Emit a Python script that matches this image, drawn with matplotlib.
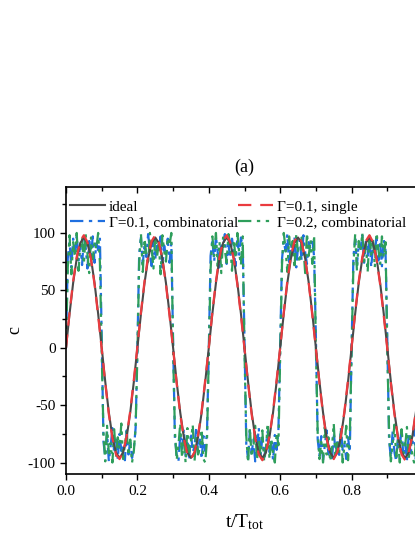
import numpy as np
import matplotlib
matplotlib.use("Agg")
import matplotlib.pyplot as plt

plt.rcParams['font.family'] = ['Liberation Serif', 'DejaVu Serif']
plt.rcParams['mathtext.fontset'] = 'custom'
plt.rcParams['mathtext.rm'] = 'Liberation Serif'
plt.rcParams['mathtext.it'] = 'Liberation Serif:italic'

# ---------------- data ----------------
t_ideal = np.linspace(0.0, 1.0, 101)
c_ideal = [
    0, 29.7, 56.4, 77.7, 91.3, 96, 91.3, 77.7, 56.4, 29.7,
    0, -29.7, -56.4, -77.7, -91.3, -96, -91.3, -77.7, -56.4, -29.7,
    0, 29.7, 56.4, 77.7, 91.3, 96, 91.3, 77.7, 56.4, 29.7,
    0, -29.7, -56.4, -77.7, -91.3, -96, -91.3, -77.7, -56.4, -29.7,
    0, 29.7, 56.4, 77.7, 91.3, 96, 91.3, 77.7, 56.4, 29.7,
    0, -29.7, -56.4, -77.7, -91.3, -96, -91.3, -77.7, -56.4, -29.7,
    0, 29.7, 56.4, 77.7, 91.3, 96, 91.3, 77.7, 56.4, 29.7,
    0, -29.7, -56.4, -77.7, -91.3, -96, -91.3, -77.7, -56.4, -29.7,
    0, 29.7, 56.4, 77.7, 91.3, 96, 91.3, 77.7, 56.4, 29.7,
    0, -29.7, -56.4, -77.7, -91.3, -96, -91.3, -77.7, -56.4, -29.7,
    0,
]
c_single = [
    0, 31, 58, 79, 93, 98, 92, 77, 55, 28,
    -1, -31, -58, -79, -93, -97, -91, -77, -55, -28,
    1, 31, 58, 80, 93, 98, 92, 77, 55, 28,
    -1, -31, -58, -79, -93, -97, -91, -76, -55, -28,
    0, 31, 58, 79, 93, 98, 92, 77, 55, 28,
    -1, -31, -58, -79, -93, -98, -91, -77, -55, -28,
    0, 31, 58, 80, 93, 98, 92, 77, 56, 28,
    -1, -31, -58, -79, -93, -97, -91, -77, -55, -28,
    1, 31, 58, 79, 93, 98, 92, 77, 55, 28,
    -1, -31, -58, -79, -93, -98, -91, -77, -55, -28,
    0,
]

t_comb = np.linspace(0.0, 1.0, 201)
c_comb_01 = [
    0, 78, 92, 70, 95, 84, 98, 76, 90, 72, 96, 88, 69, 93, 80, 97, 74, 91, 85, 95,
    10, -82, -95, -74, -99, -86, -70, -92, -80, -97, -75, -90, -84, -98, -72, -93, -81, -96, -88, -70,
    0, 82, 96, 73, 90, 79, 99, 85, 71, 94, 77, 92, 86, 97, 70, 89, 80, 95, 74, 91,
    8, -79, -93, -99, -76, -88, -71, -95, -83, -98, -74, -91, -86, -69, -94, -80, -97, -77, -90, -73,
    -2, 80, 94, 75, 97, 83, 70, 92, 87, 99, 73, 90, 78, 95, 84, 71, 93, 81, 96, 88,
    6, -84, -97, -72, -92, -80, -99, -87, -70, -94, -78, -96, -85, -73, -91, -82, -98, -76, -89, -72,
    1, 77, 93, 84, 99, 72, 90, 81, 96, 70, 88, 94, 76, 98, 83, 73, 92, 86, 95, 79,
    9, -80, -94, -77, -98, -85, -72, -93, -88, -99, -74, -90, -81, -96, -70, -89, -84, -97, -78, -91,
    0, 79, 95, 72, 91, 86, 98, 74, 93, 80, 97, 70, 89, 84, 96, 76, 92, 71, 94, 85,
    7, -81, -96, -73, -91, -99, -78, -87, -70, -95, -83, -98, -75, -92, -85, -71, -97, -80, -93, -76,
    -3,
]
c_comb_02 = [
    0, 70, 98, 64, 92, 79, 100, 67, 88, 95, 73, 99, 82, 65, 96, 77, 93, 86, 100, 74,
    -4, -75, -99, -68, -92, -83, -100, -71, -95, -78, -88, -66, -97, -84, -73, -94, -80, -100, -90, -69,
    -6, 74, 99, 66, 95, 81, 72, 100, 87, 69, 97, 79, 92, 64, 98, 84, 75, 96, 89, 100,
    -2, -72, -98, -85, -66, -96, -79, -100, -70, -91, -82, -67, -99, -76, -93, -87, -71, -97, -100, -80,
    -5, 68, 97, 80, 100, 71, 92, 65, 96, 85, 74, 99, 90, 67, 94, 78, 100, 83, 72, 97,
    -3, -77, -100, -70, -95, -86, -68, -98, -81, -93, -72, -99, -88, -66, -97, -79, -92, -100, -74, -85,
    -7, 72, 100, 86, 66, 97, 78, 93, 69, 99, 82, 74, 96, 88, 65, 100, 80, 94, 73, 98,
    -1, -74, -97, -82, -100, -69, -93, -78, -99, -87, -66, -96, -80, -91, -72, -100, -85, -68, -98, -77,
    -4, 71, 99, 67, 93, 84, 100, 75, 90, 66, 98, 81, 95, 70, 100, 86, 73, 97, 79, 92,
    -2, -73, -99, -84, -67, -95, -80, -100, -71, -92, -86, -69, -98, -77, -94, -100, -82, -70, -96, -75,
    -6,
]

labels = ['ideal', '\u0393=0.1, single', '\u0393=0.1, combinatorial', '\u0393=0.2, combinatorial']
colors = ['#4a4a4a', '#ea3b3f', '#1f6fe0', '#2e9e5b']
xticks = [0.0, 0.2, 0.4, 0.6, 0.8]
xtick_labels = ['0.0', '0.2', '0.4', '0.6', '0.8']
yticks = [-100, -50, 0, 50, 100]
ytick_labels = ['-100', '-50', '0', '50', '100']

# ---------------- figure ----------------
fig = plt.figure(figsize=(4.15, 5.37), dpi=100)
ax = fig.add_axes([66 / 415, 1 - 474 / 537, (423 - 66) / 415, (474 - 187) / 537])

l_c1, = ax.plot(t_comb, c_comb_01, color=colors[2], lw=1.6, dashes=(6, 2.5, 1.5, 2.5), label=labels[2])
l_c2, = ax.plot(t_comb, c_comb_02, color=colors[3], lw=1.6, dashes=(6, 2.5, 1.5, 2.5, 1.5, 2.5), label=labels[3])
l_id, = ax.plot(t_ideal, c_ideal, color=colors[0], lw=1.5, label=labels[0])
l_si, = ax.plot(t_ideal, c_single, color=colors[1], lw=1.6, dashes=(6, 4), label=labels[1])

ax.set_xlim(0, 1.0)
ax.set_ylim(-110, 140)
ax.set_xticks(xticks)
ax.set_xticks([0.1, 0.3, 0.5, 0.7, 0.9], minor=True)
ax.set_yticks(yticks)
ax.set_yticks([-75, -25, 25, 75, 125], minor=True)
ax.set_xticklabels(xtick_labels)
ax.set_yticklabels(ytick_labels)

ax.tick_params(axis='both', which='both', direction='out', labelsize=11, width=1, colors='black')
ax.tick_params(axis='both', which='major', length=4)
ax.tick_params(axis='both', which='minor', length=3)
ax.tick_params(axis='x', which='both', top=True, labeltop=False, pad=4)
for sp in ax.spines.values():
    sp.set_linewidth(1.2)
# top ticks point inward
for tk in ax.xaxis.get_major_ticks() + ax.xaxis.get_minor_ticks():
    tk.tick2line.set_marker(3)

ax.set_xlabel(r'$\mathrm{t/T_{tot}}$', fontsize=14, labelpad=10)
ax.set_ylabel('c', fontsize=13, labelpad=3)
ax.set_title('(a)', fontsize=13, pad=11)

ax.legend([l_id, l_c1, l_si, l_c2], [labels[0], labels[2], labels[1], labels[3]], ncol=2,
          loc='upper left', bbox_to_anchor=(0.01, 0.955), frameon=False, fontsize=11,
          handlelength=2.3, handletextpad=0.25, columnspacing=0.0,
          labelspacing=0.15, borderpad=0, borderaxespad=0)

fig.savefig('out.png', dpi=100)
